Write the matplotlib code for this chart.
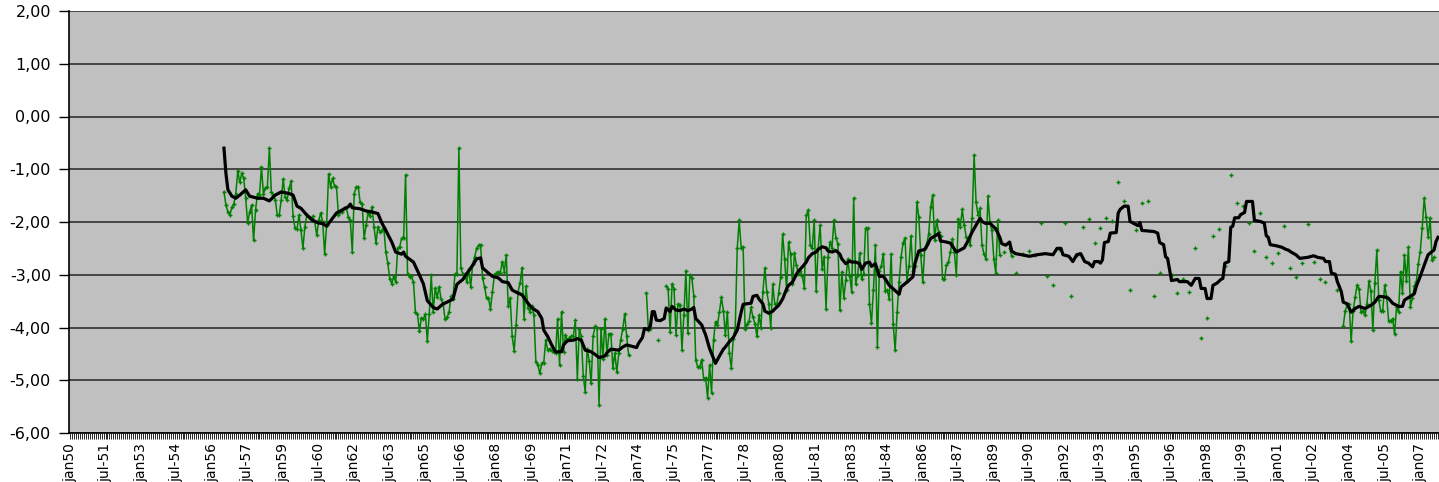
import numpy as np
import matplotlib
matplotlib.use("Agg")
import matplotlib.pyplot as plt
from matplotlib.ticker import FixedLocator, MultipleLocator

# ---------------- data ----------------
n_months = 694  # jan 1950 .. oct 2007, one category per month
tick_every = 18
tick_labels = ["jan50", "jul-51", "jan53", "jul-54", "jan56", "jul-57", "jan59", "jul-60",
               "jan62", "jul-63", "jan65", "jul-66", "jan68", "jul-69", "jan71", "jul-72",
               "jan74", "jul-75", "jan77", "jul-78", "jan80", "jul-81", "jan83", "jul-84",
               "jan86", "jul-87", "jan89", "jul-90", "jan92", "jul-93", "jan95", "jul-96",
               "jan98", "jul-99", "jan01", "jul-02", "jan04", "jul-05", "jan07"]
y_ticks = [2, 1, 0, -1, -2, -3, -4, -5, -6]
y_tick_labels = ["2,00", "1,00", "0,00", "-1,00", "-2,00", "-3,00", "-4,00", "-5,00", "-6,00"]

# monthly values, first block starts at month index 78 (jul 1956)
green_a_start = 78
green_a = [
    -1.43, -1.68, -1.81, -1.87, -1.72, -1.66, -1.46, -1.03, -1.25, -1.08, -1.17, -1.55,
    -2.02, -1.81, -1.68, -2.35, -1.77, -1.46, -1.49, -0.96, -1.47, -1.35, -1.33, -0.60,
    -1.43, -1.49, -1.58, -1.87, -1.87, -1.58, -1.19, -1.52, -1.58, -1.36, -1.23, -1.89,
    -2.12, -2.14, -1.87, -2.16, -2.49, -2.09, -1.87, -1.90, -1.95, -1.89, -2.00, -2.25,
    -1.97, -1.83, -2.00, -2.60, -2.06, -1.09, -1.33, -1.17, -1.32, -1.34, -1.87, -1.81,
    -1.81, -1.74, -1.74, -1.90, -1.97,
    # m143
    -2.57, -1.46, -1.34, -1.33, -1.63, -1.66, -2.31, -2.06, -1.83, -1.89, -1.71, -2.09,
    -2.40, -2.09, -2.19, -2.16, -2.12, -2.57, -2.78, -3.08, -3.17, -3.03, -3.14, -2.49,
    -2.47, -2.31, -2.31, -1.11, -2.98, -3.04, -3.03, -3.14, -3.71, -3.74, -4.07, -3.82,
    -3.84, -3.74, -4.26, -3.74, -3.01, -3.71, -3.25, -3.43, -3.23, -3.46, -3.55, -3.84,
    -3.81, -3.71, -3.41, -3.46, -2.99, -2.99, -0.60, -2.87, -2.99, -2.99, -3.14, -2.90,
    -3.23, -2.79, -2.66, -2.50, -2.44,
    # m208
    -2.43, -3.06, -3.23, -3.44, -3.44, -3.65, -3.32, -3.00, -2.97, -2.94, -2.96, -2.75,
    -2.94, -2.62, -3.60, -3.44, -4.17, -4.44, -3.95, -3.32, -3.15, -2.87, -3.83, -3.22,
    -3.63, -3.70, -3.59, -3.76, -4.65, -4.71, -4.87, -4.68, -4.67, -4.24, -4.43, -4.40,
    -4.44, -4.46, -4.48, -3.84, -4.71, -3.70, -4.46, -4.14, -4.24, -4.19, -4.17, -4.16,
    -3.86, -4.97, -4.02, -4.16, -4.92, -5.22, -4.40, -4.63, -5.06, -4.16, -3.98, -4.00,
    -5.46, -4.02, -4.59, -3.83, -4.52, -4.12, -4.12,
    # m275
    -4.76, -4.49, -4.84, -4.49, -4.23, -4.03, -3.74, -4.17, -4.52,
    None, None, None, None, None, None, None, None,
    -3.34, -4.05, -4.02, None, None, None, -4.24, None, None, None,
    -3.21, -3.27, -4.08, -3.17, -3.27, -4.14, -3.55, -3.57, -4.42, -3.76, -2.92, -4.10,
    -3.00, -3.06, -3.40, -4.62, -4.75, -4.75, -4.61, -4.97, -4.95, -5.33, -4.71, -5.24,
    -4.24, -3.89, -3.95, -3.70, -3.43, -3.68, -4.14, -3.70, -4.49, -4.76, -4.21, -4.00,
    # m338
    -2.50, -1.97, -2.49, -2.47, -4.03, -3.93, -3.88, -3.62, -3.81, -3.93, -4.17, -3.77,
    -4.00, -3.33, -2.87, -3.33, -3.55, -4.01, -3.18, -3.55, -3.58, -3.35, -3.04, -2.23,
    -2.70, -3.29, -2.38, -2.60, -3.18, -2.59, -2.82, -2.99, -2.92, -3.03, -3.25, -1.87,
    -1.77, -2.44, -2.50, -1.97, -3.31, -2.50, -2.06, -2.89, -2.66, -3.65, -2.66, -2.38,
    -2.50, -1.97, -2.31, -2.41, -3.67, -2.95, -3.44, -3.10, -2.70, -3.03, -3.33, -1.55,
    -3.17, -3.01, -2.59, -3.08, -2.99, -2.12, -2.12, -3.55,
    # m406
    -3.92, -3.29, -2.44, -4.37, -2.92, -2.84, -2.60, -3.30, -3.29, -3.46, -2.61, -3.93,
    -4.43, -3.71, -3.14, -2.66, -2.40, -2.30, -3.12, -2.84, -2.27, -2.92, -2.84, -1.62,
    -1.91, -2.63, -3.14, -2.50, -2.41, -2.23, -1.72, -1.49, -2.35, -1.97, -2.19, -2.27,
    -3.08, -3.08, -2.82, -2.76, -2.57, -2.33, -2.57, -3.01, -1.95, -2.09, -1.76, -2.06,
    -2.28, -2.31, -2.44, -1.93, -0.73, -1.63, -1.87, -1.74, -2.44, -2.61, -2.70, -1.51,
    -2.00, -2.16, -2.70, -2.97, -1.97,
]

# sparse observations 1989-2003 (isolated points)
sparse_months = [471, 473, 476, 477, 479, 483, 486, 489, 492, 495, 498, 501, 504, 507,
                 510, 513, 516, 519, 522, 525, 528, 531, 534, 537, 540, 543, 546, 549,
                 552, 558, 561, 564, 567, 570, 573, 576, 579, 582, 585, 588, 591, 594,
                 597, 600, 603, 606, 609, 612, 615, 618, 621, 624, 627, 630, 633, 636, 642]
sparse_values = [-2.62, -2.57, -2.50, -2.65, -2.97, -2.60, -2.55, -2.62, -2.02, -3.02,
                 -3.20, -2.52, -2.02, -3.40, -2.62, -2.10, -1.95, -2.40, -2.11, -1.92,
                 -1.99, -1.25, -1.61, -3.28, -2.16, -1.64, -1.61, -3.41, -2.97, -3.00,
                 -3.34, -3.09, -3.32, -2.50, -4.19, -3.82, -2.26, -2.13, -2.83, -1.11,
                 -1.64, -1.69, -2.01, -2.55, -1.83, -2.66, -2.77, -2.58, -2.08, -2.87,
                 -3.05, -2.77, -2.03, -2.75, -3.09, -3.14, -3.29]

green_b_start = 645
green_b = [
    -3.97, -3.68, -3.58, -3.55, -4.26, -3.68, -3.43, -3.20, -3.27, -3.71, -3.69, -3.77,
    -3.55, -3.12, -3.31, -4.04, -3.15, -2.54, -3.48, -3.69, -3.68, -3.20, -3.42, -3.88,
    -3.87, -3.83, -4.12, -3.61, -3.71, -2.94, -3.34, -2.62, -3.12, -2.48, -3.61, -3.45,
    -3.22, -3.13, -2.80, -2.56, -2.11, -1.55, -1.91, -2.29, -1.92, -2.72, -2.67,
]

# smoothed (black) series
black_months = [
    78, 79, 80, 82, 84, 86, 89, 91, 95, 98, 101, 104, 107, 111, 113, 115, 117, 120, 123, 126,
    128, 130, 133, 135, 138, 141, 142, 143, 147, 150, 153, 156, 158, 160, 163, 165, 168, 169,
    170, 174, 176, 179, 181, 184, 186, 189, 191, 194, 196, 199, 201, 204, 206, 208, 209, 212,
    214, 217, 219, 222, 224, 227, 229, 232, 234, 237, 239, 240, 242, 244, 246, 249, 250, 252,
    255, 257, 259, 261, 264, 266, 268, 271, 272, 274, 278, 280, 282, 284, 287, 288, 290, 291,
    293, 294, 295, 296, 297, 299, 301, 302, 304, 305, 307, 309, 311, 313, 315, 316, 317, 320,
    322, 324, 326, 327, 329, 331, 332, 334, 336, 338, 340, 341, 343, 345, 346, 348, 349, 351,
    352, 354, 356, 357, 359, 361, 363, 364, 366, 368, 369, 371, 373, 374, 376, 378, 379, 381,
    383, 384, 386, 388, 390, 391, 393, 395, 396, 398, 400, 401, 403, 405, 406, 408, 410, 412,
    413, 415, 418, 420, 421, 423, 424, 427, 428, 430, 433, 434, 436, 438, 440, 441, 444, 446,
    449, 450, 453, 455, 457, 459, 461, 462, 464, 466, 467, 469, 471, 472, 474, 476, 477, 479,
    482, 486, 490, 494, 498, 500, 502, 503, 506, 508, 510, 512, 514, 516, 518, 519, 521,
    522, 523, 524, 526, 527, 530, 531, 532, 534, 536, 537, 539, 541, 542, 543, 549, 551, 552,
    554, 555, 556, 558, 561, 562, 566, 568, 570, 572, 573, 575, 576, 578, 579, 581, 583, 584,
    585, 587, 588, 589, 590, 592, 593, 595, 596, 599, 600, 603, 605, 606, 607, 608, 611, 614,
    616, 617, 619, 621, 623, 627, 630, 632, 635, 636, 638, 639, 641, 642, 644, 645, 647, 649,
    651, 653, 656, 659, 661, 663, 666, 668, 670, 673, 675, 676, 679, 681, 682, 684, 686, 688,
    691, 692, 693]
black_values = [
    -0.60, -1.08, -1.39, -1.51, -1.55, -1.49, -1.39, -1.51, -1.55, -1.55, -1.60, -1.49, -1.43,
    -1.46, -1.49, -1.70, -1.74, -1.87, -1.97, -2.02, -2.03, -2.08, -1.93, -1.83, -1.77, -1.71,
    -1.66, -1.73, -1.75, -1.79, -1.81, -1.84, -2.02, -2.16, -2.38, -2.57, -2.61, -2.57, -2.65,
    -2.76, -2.92, -3.17, -3.49, -3.62, -3.65, -3.55, -3.52, -3.46, -3.18, -3.09, -2.98, -2.82,
    -2.70, -2.68, -2.87, -2.97, -3.03, -3.06, -3.13, -3.15, -3.29, -3.35, -3.38, -3.54, -3.63,
    -3.70, -3.83, -4.05, -4.17, -4.33, -4.46, -4.46, -4.33, -4.25, -4.24, -4.21, -4.24, -4.43,
    -4.46, -4.51, -4.57, -4.54, -4.48, -4.41, -4.43, -4.37, -4.33, -4.35, -4.38, -4.30, -4.19,
    -4.02, -4.04, -3.97, -3.70, -3.70, -3.86, -3.87, -3.83, -3.63, -3.70, -3.60, -3.67, -3.68,
    -3.65, -3.68, -3.65, -3.62, -3.83, -3.95, -4.14, -4.40, -4.59, -4.68, -4.54, -4.41, -4.37,
    -4.27, -4.19, -4.05, -3.71, -3.56, -3.55, -3.54, -3.41, -3.39, -3.46, -3.55, -3.69, -3.73,
    -3.69, -3.65, -3.58, -3.46, -3.27, -3.20, -3.14, -2.99, -2.93, -2.85, -2.76, -2.68, -2.60,
    -2.57, -2.52, -2.47, -2.49, -2.55, -2.57, -2.54, -2.61, -2.70, -2.79, -2.74, -2.76, -2.76,
    -2.79, -2.90, -2.78, -2.76, -2.84, -2.79, -3.03, -3.03, -3.08, -3.20, -3.30, -3.37, -3.23,
    -3.17, -3.14, -3.04, -2.79, -2.55, -2.52, -2.46, -2.31, -2.27, -2.22, -2.36, -2.38, -2.40,
    -2.57, -2.55, -2.49, -2.35, -2.19, -2.06, -1.93, -1.99, -2.03, -2.02, -2.06, -2.13, -2.29,
    -2.41, -2.44, -2.38, -2.55, -2.60,
    -2.62, -2.65, -2.62, -2.60, -2.62, -2.50, -2.50, -2.62, -2.65, -2.75, -2.62, -2.60, -2.75,
    -2.78, -2.85, -2.75, -2.75,
    -2.78, -2.72, -2.39, -2.37, -2.21, -2.20, -1.83, -1.76, -1.70, -1.70, -1.99, -2.03, -2.07,
    -2.01, -2.16, -2.18, -2.21, -2.39, -2.43, -2.66, -2.69, -3.11, -3.09, -3.13, -3.13, -3.20,
    -3.07, -3.07, -3.26, -3.26, -3.45, -3.45, -3.20, -3.16, -3.09, -3.07, -2.78, -2.75, -2.10,
    -2.08, -1.92, -1.92, -1.86, -1.82, -1.61, -1.61, -1.97, -1.99, -2.02, -2.26, -2.29, -2.43,
    -2.45, -2.48, -2.52, -2.53, -2.58, -2.62, -2.69, -2.67, -2.64, -2.67, -2.69, -2.75, -2.75,
    -2.97, -2.99, -3.13, -3.32, -3.52, -3.55, -3.71, -3.64, -3.60, -3.64, -3.58, -3.52, -3.41,
    -3.42, -3.45, -3.54, -3.60, -3.60, -3.48, -3.41, -3.36, -3.22, -3.03, -2.82, -2.62, -2.53,
    -2.37, -2.29]

# ---------------- assemble monthly series ----------------
green = np.full(n_months, np.nan)
for i, v in enumerate(green_a):
    if v is not None:
        green[green_a_start + i] = v
for m, v in zip(sparse_months, sparse_values):
    green[m] = v
for i, v in enumerate(green_b):
    if v is not None:
        green[green_b_start + i] = v
months = np.arange(n_months)

# ---------------- figure ----------------
W, H = 1439, 482
fig = plt.figure(figsize=(W / 100, H / 100), dpi=100)
ax = fig.add_axes([69 / W, 49 / H, (W - 69) / W, 422 / H])
ax.set_facecolor("#C0C0C0")

ax.set_ylim(-6, 2)
ax.set_xlim(-0.5, n_months - 0.5)

ax.set_yticks(y_ticks)
ax.set_yticklabels(y_tick_labels)
ax.yaxis.grid(True, color="#303030", linewidth=1.2)
ax.set_axisbelow(True)

major_pos = [i * tick_every for i in range(len(tick_labels))]
ax.xaxis.set_major_locator(FixedLocator(major_pos))
ax.set_xticklabels(tick_labels, rotation=90, fontsize=10, family="DejaVu Sans")
ax.xaxis.set_minor_locator(MultipleLocator(1))
ax.tick_params(axis="x", which="both", direction="out", length=4, width=0.6, color="black", pad=3)
ax.tick_params(axis="y", direction="out", length=7, width=1, color="black", labelsize=11.5, pad=6)

for side in ("right", "top"):
    ax.spines[side].set_visible(False)
ax.spines["left"].set_color("black")
ax.spines["bottom"].set_color("black")
ax.spines["left"].set_linewidth(1.2)
ax.spines["bottom"].set_linewidth(1.2)

ax.plot(months, green, color="#008000", linewidth=1.1, marker="+", markersize=3.2,
        markeredgewidth=1.0, zorder=3)
ax.plot(black_months, black_values, color="black", linewidth=2.3, zorder=4,
        solid_joinstyle="round")

fig.savefig("out.png", dpi=100)
